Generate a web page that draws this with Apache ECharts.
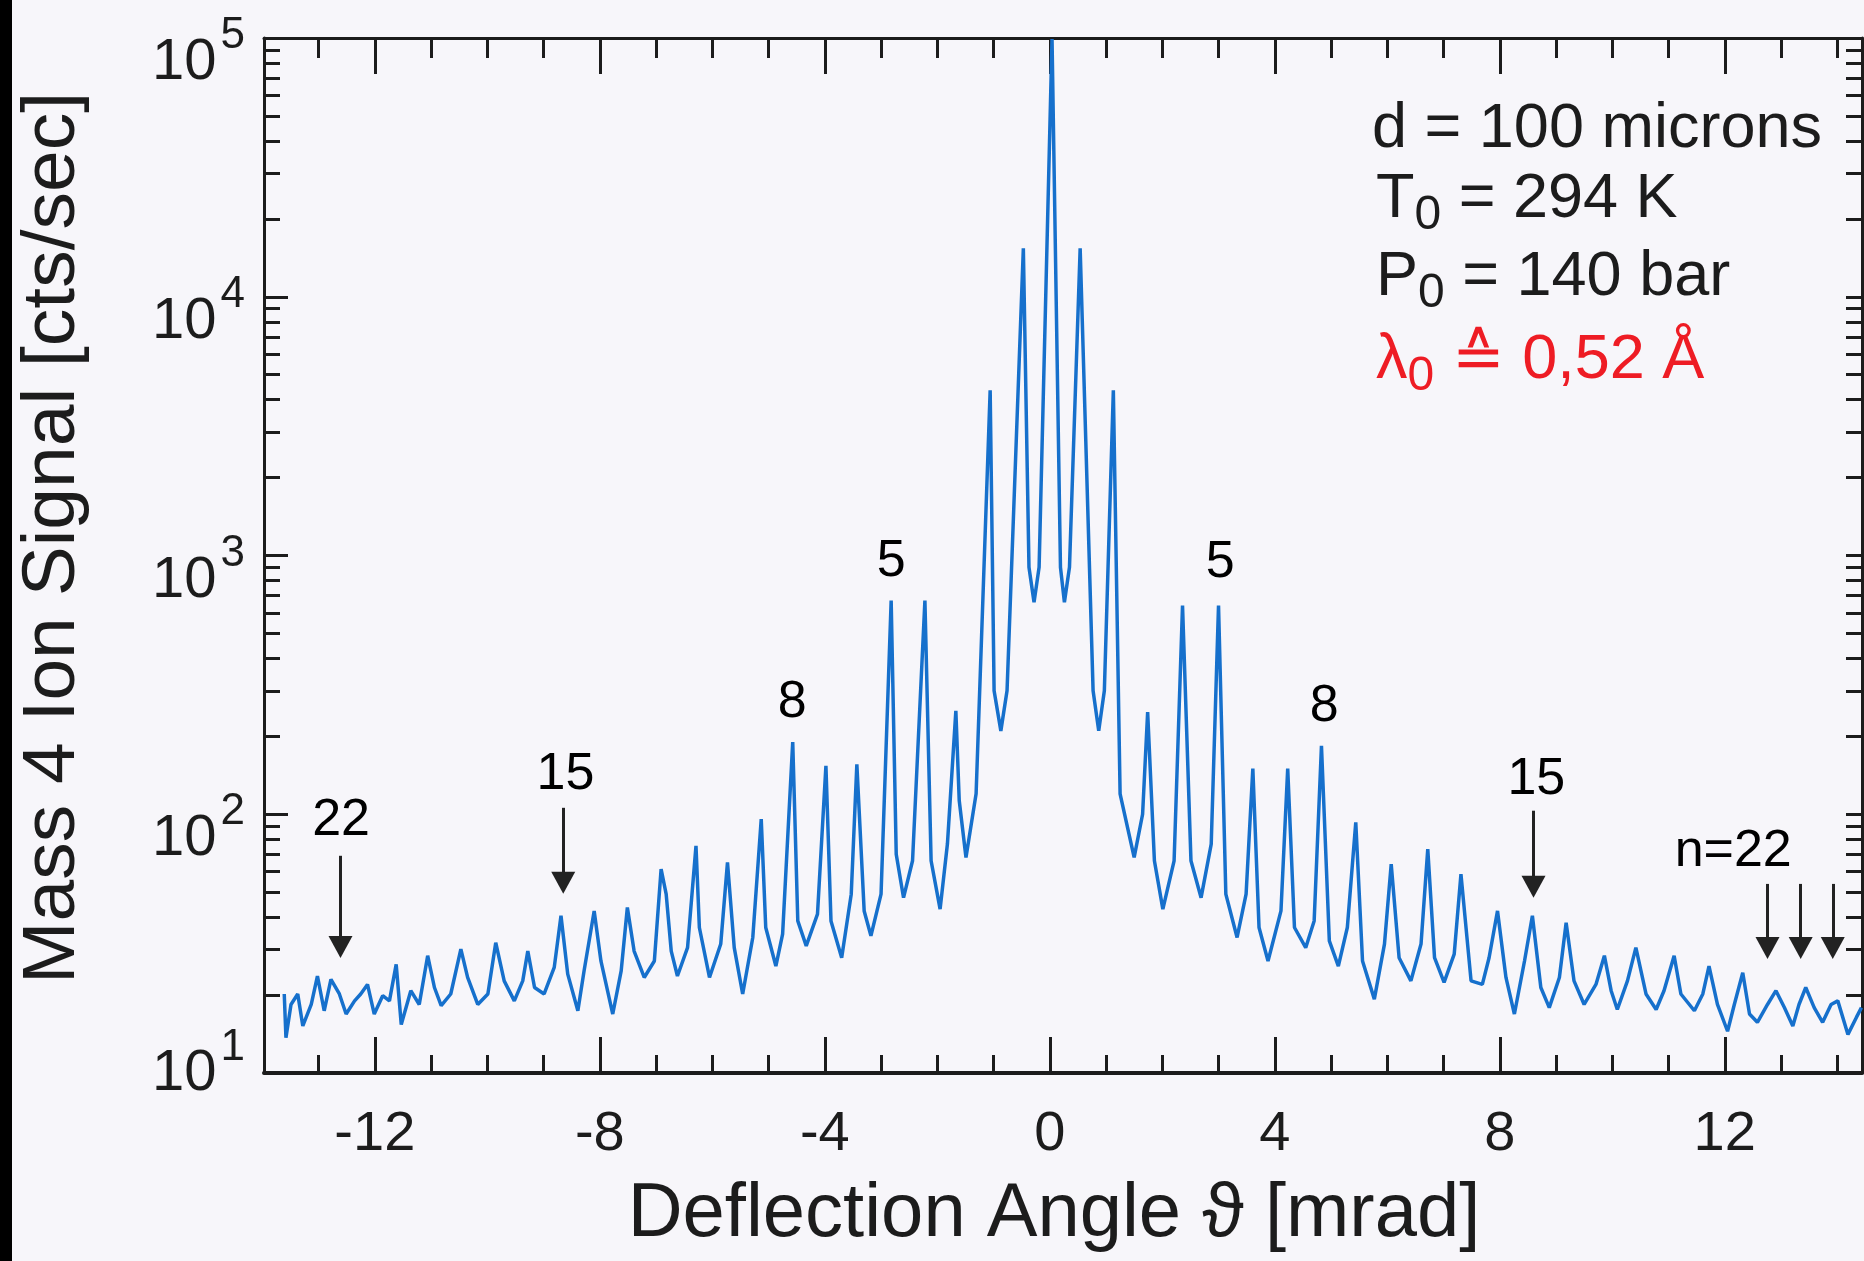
<!DOCTYPE html>
<html>
<head>
<meta charset="utf-8">
<script src="https://cdn.jsdelivr.net/npm/echarts@6/dist/echarts.min.js"></script>
<style>
html,body{margin:0;padding:0;background:#f7f6fa;}
#chart{width:1864px;height:1261px;}
</style>
</head>
<body>
<div id="chart"></div>
<script>
// ---- data ----
const angle = [
  -13.61,-13.58,-13.49,-13.37,-13.28,-13.13,-13.02,-12.90,-12.78,-12.63,-12.51,-12.36,-12.25,-12.13,-12.01,
  -11.86,-11.74,-11.62,-11.53,-11.36,-11.21,-11.06,-10.94,-10.82,-10.65,-10.47,-10.35,-10.17,-9.99,-9.85,
  -9.70,-9.52,-9.37,-9.28,-9.16,-8.99,-8.81,-8.69,-8.57,-8.39,-8.28,-8.10,-7.98,-7.77,-7.62,-7.51,-7.39,
  -7.21,-7.03,-6.91,
  -6.82,-6.73,-6.62,-6.44,-6.29,-6.23,-6.05,-5.85,-5.73,-5.61,-5.46,-5.28,-5.13,-5.05,-4.87,-4.75,-4.57,
  -4.48,-4.33,-4.13,-3.98,-3.89,-3.70,-3.53,-3.43,-3.30,-3.18,-3.00,-2.82,-2.73,-2.60,-2.44,-2.22,-2.11,
  -1.95,-1.82,-1.67,-1.61,-1.49,-1.31,
  -1.06,-0.99,-0.87,-0.76,-0.47,-0.37,-0.28,-0.19,0.04,0.19,0.26,0.35,0.54,0.77,0.87,0.97,1.13,
  1.25,1.50,1.65,1.74,1.86,2.01,2.21,2.36,2.51,2.69,2.87,3.00,3.13,3.33,3.49,3.61,3.72,3.88,4.11,4.23,
  4.35,4.55,4.70,4.83,4.97,5.13,5.29,5.44,5.56,5.77,5.95,6.07,6.21,6.42,6.60,6.72,6.84,7.01,7.19,7.31,
  7.49,7.69,7.81,7.96,8.11,8.26,8.44,8.58,8.73,8.88,9.06,9.18,9.32,9.50,9.71,9.86,9.98,10.09,10.27,10.42,
  10.60,10.78,10.92,11.10,11.22,11.46,11.61,11.72,11.87,12.05,12.17,12.32,12.44,12.58,12.76,12.91,13.06,
  13.21,13.32,13.44,13.59,13.74,13.89,14.01,14.19,14.34,14.43
];
const signal = [
  20.2,13.7,18.4,20.2,15.2,18.4,23.7,17.4,23.0,20.2,16.9,19.0,20.2,22.0,16.9,
  19.9,19.0,26.3,15.4,20.8,18.4,28.4,21.4,18.2,20.2,30.1,23.4,18.4,20.2,31.9,
  22.7,19.0,22.7,29.6,21.4,20.2,25.6,40.5,24.1,17.4,24.8,42.3,27.1,16.9,24.8,43.6,29.6,
  23.4,27.1,61.4,
  49.1,29.6,23.7,30.5,75.5,36.5,23.4,31.5,65.1,30.5,20.2,33.4,95.8,36.5,25.9,34.4,190,
  38.7,31.0,41.1,154,38.7,27.9,49.1,156,42.3,33.9,49.1,670,70.1,47.6,66.1,670,66.1,
  43.0,76.7,251,113,68.1,120,
  4350,300,210,300,15400,900,660,900,99000,900,660,900,15400,300,210,300,4350,
  120,68.1,100,248,66.1,43.0,66.1,641,66.1,47.6,76.7,641,49.1,33.4,49.1,150,36.5,27.1,42.3,150,
  36.5,30.5,38.7,184,32.4,25.9,36.5,93.0,27.1,19.3,31.5,64.2,27.9,22.7,31.5,73.3,27.9,22.4,28.8,58.7,
  22.7,22.0,27.9,42.3,23.4,16.9,27.1,40.5,21.4,17.9,23.4,38.1,22.7,18.4,22.0,28.4,20.8,17.6,22.7,30.5,
  20.2,17.6,20.8,28.4,20.2,17.4,20.2,25.9,18.4,14.5,18.4,24.4,16.9,15.7,18.4,20.8,17.9,
  15.2,18.4,21.4,17.9,15.7,18.4,19.0,14.1,16.4,17.9
];
const xMajorTicks = [-12,-8,-4,0,4,8,12];
const xMinorTicks = [-13,-11,-10,-9,-7,-6,-5,-3,-2,-1,1,2,3,5,6,7,9,10,11,13,14];
const yDecades = [10,100,1000,10000,100000];
const yMinorTicks = [20,30,40,50,60,70,80,90,200,300,400,500,600,700,800,900,
  2000,3000,4000,5000,6000,7000,8000,9000,20000,30000,40000,50000,60000,70000,80000,90000];
const annotText = ['22','15','8','5','5','8','15','n=22'];
const annotX = [-12.60,-8.61,-4.58,-2.82,3.03,4.88,8.65,12.15];
const annotY = [94.4,142,270,948,940,261,136,71.6];
const arrowX = [-12.61,-8.65,8.60,12.76,13.35,13.92];
const arrowFrom = [69.1,105.9,103.2,53.8,53.8,53.8];
const arrowTo = [30.7,54.3,52.4,30.4,30.4,30.4];

// ---- chart ----
const FF = '"Liberation Sans", Arial, Helvetica, sans-serif';
const INK = '#1c1c1c';
const RED = '#ee1c24';
const XMIN = -13.97, XMAX = 14.44;

const chart = echarts.init(document.getElementById('chart'), null, {renderer: 'canvas'});

function xAx(pos, showLine, ticks, len, labels) {
  return {
    type: 'value', min: XMIN, max: XMAX, position: pos,
    splitLine: {show: false},
    axisLine: {show: showLine, onZero: false, lineStyle: {color: INK, width: pos === 'bottom' ? 4 : 3}},
    axisTick: {show: true, inside: true, length: len, customValues: ticks, lineStyle: {color: INK, width: 3}},
    axisLabel: labels ? {
      show: true, customValues: xMajorTicks, margin: 34, fontSize: 56, fontFamily: FF, color: INK,
      formatter: v => String(v)
    } : {show: false}
  };
}

const infoRich = (c) => ({
  b: {fontSize: 63, fontFamily: FF, fill: c, height: 63, padding: [0,0,8,0], verticalAlign: 'top'},
  s: {fontSize: 48, fontFamily: FF, fill: c, height: 48, verticalAlign: 'bottom'}
});
function infoText(txt, x, y, c) {
  return {
    type: 'text', x: x, y: y, z: 10,
    style: {text: txt, rich: infoRich(c), fill: c, font: '63px ' + FF,
      align: 'left', textAlign: 'left', verticalAlign: 'middle', textVerticalAlign: 'middle'}
  };
}

const option = {
  backgroundColor: '#f7f6fa',
  animation: false,
  grid: {left: 264, right: 2, top: 38, bottom: 188, containLabel: false, outerBoundsMode: 'none'},
  xAxis: [
    xAx('bottom', true, xMajorTicks, 36, true),
    xAx('bottom', false, xMinorTicks, 18, false),
    xAx('top', true, xMajorTicks, 36, false),
    xAx('top', false, xMinorTicks, 20, false)
  ],
  yAxis: [
    {
      type: 'log', logBase: 10, min: 10, max: 100000, position: 'left',
      splitLine: {show: false},
      axisLine: {show: true, onZero: false, lineStyle: {color: INK, width: 3}},
      axisTick: {show: true, inside: true, length: 24, lineStyle: {color: INK, width: 3}},
      axisLabel: {
        show: true, showMinLabel: true, showMaxLabel: true, margin: 19,
        formatter: v => {
          const e = Math.round(Math.log10(v));
          return e === 1 ? '{b1|10}{s1|' + e + '}' : '{b|10}{s|' + e + '}';
        },
        rich: {
          b: {fontSize: 58, fontFamily: FF, color: INK, height: 58, verticalAlign: 'bottom'},
          s: {fontSize: 44, fontFamily: FF, color: INK, height: 44, padding: [30,0,34,4], verticalAlign: 'bottom'},
          b1: {fontSize: 58, fontFamily: FF, color: INK, height: 58, padding: [0,0,37,0], verticalAlign: 'bottom'},
          s1: {fontSize: 44, fontFamily: FF, color: INK, height: 44, padding: [20,0,70,4], verticalAlign: 'bottom'}
        }
      }
    },
    {
      type: 'value', min: 1, max: 5, position: 'left',
      splitLine: {show: false}, axisLine: {show: false, onZero: false}, axisLabel: {show: false},
      axisTick: {show: true, inside: true, length: 16, customValues: yMinorTicks.map(Math.log10), lineStyle: {color: INK, width: 3}}
    },
    {
      type: 'value', min: 1, max: 5, position: 'right',
      splitLine: {show: false}, axisLabel: {show: false},
      axisLine: {show: true, onZero: false, lineStyle: {color: INK, width: 3}},
      axisTick: {show: true, inside: true, length: 16, customValues: yDecades.concat(yMinorTicks).map(Math.log10), lineStyle: {color: INK, width: 3}}
    }
  ],
  series: [
    {
      name: 'Mass 4 signal', type: 'line', xAxisIndex: 0, yAxisIndex: 0,
      data: angle.map((a, i) => [a, signal[i]]),
      showSymbol: false, symbol: 'none', clip: true, z: 3,
      lineStyle: {color: '#1670cc', width: 3.5}
    },
    {
      name: 'annotations', type: 'scatter', xAxisIndex: 0, yAxisIndex: 0, silent: true, z: 5,
      symbolSize: 1, itemStyle: {color: 'rgba(0,0,0,0)'},
      data: annotText.map((t, i) => ({value: [annotX[i], annotY[i]], label: {formatter: t}})),
      label: {show: true, position: 'inside', fontSize: 52, fontFamily: FF, color: '#000', opacity: 1},
      markLine: {
        silent: true, symbol: ['none', 'triangle'], symbolSize: [24, 22], animation: false,
        label: {show: false},
        lineStyle: {color: '#222', width: 3, type: 'solid'},
        data: arrowX.map((x, i) => [{coord: [x, arrowFrom[i]]}, {coord: [x, arrowTo[i]]}])
      }
    }
  ],
  graphic: [
    {type: 'rect', x: 0, y: 0, shape: {width: 12, height: 1261}, style: {fill: '#000'}, z: 20},
    {
      type: 'text', x: 1054, y: 1215, z: 10,
      style: {text: 'Deflection Angle \u03D1 [mrad]', font: '76px ' + FF, fill: INK,
        align: 'center', textAlign: 'center', verticalAlign: 'middle', textVerticalAlign: 'middle'}
    },
    {
      type: 'text', x: 53, y: 538, rotation: Math.PI / 2, z: 10,
      style: {text: 'Mass 4 Ion Signal [cts/sec]', font: '75px ' + FF, fill: INK,
        align: 'center', textAlign: 'center', verticalAlign: 'middle', textVerticalAlign: 'middle'}
    },
    infoText('{b|d = 100 microns}', 1372, 134, INK),
    infoText('{b|T}{s|0}{b| = 294 K}', 1376, 204, INK),
    infoText('{b|P}{s|0}{b| = 140 bar}', 1376, 282, INK),
    infoText('{b|\u03BB}{s|0}{b| \u2259 0,52 \u00C5}', 1376, 365, RED)
  ]
};
chart.setOption(option);
</script>
</body>
</html>
